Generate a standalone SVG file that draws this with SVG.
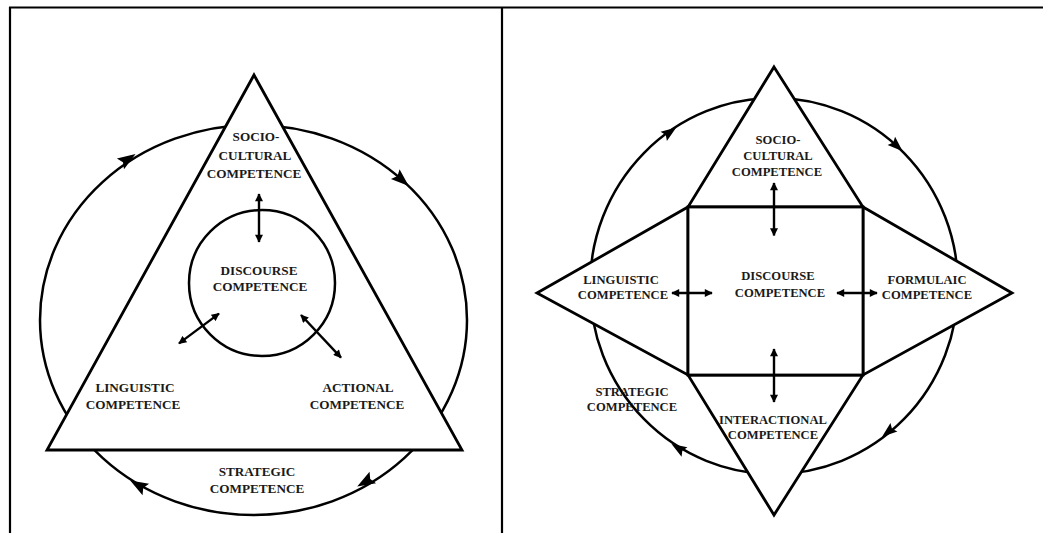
<svg xmlns="http://www.w3.org/2000/svg" width="1043" height="533" viewBox="0 0 1043 533">
<style>
.ln{fill:none;stroke:#000;stroke-width:2.5}
.sh{fill:#fff;stroke:#000;stroke-width:2.8;stroke-linejoin:miter}
.frame{stroke:#000;stroke-width:2.2;fill:none}
.tl{font-family:"Liberation Serif","Times New Roman",serif;font-weight:bold;font-size:13.2px;fill:#1a1a1a;text-anchor:middle}
.tr{font-family:"Liberation Serif","Times New Roman",serif;font-weight:bold;font-size:12.6px;fill:#1a1a1a;text-anchor:middle}
.da{fill:none;stroke:#000;stroke-width:2.4;marker-start:url(#ah);marker-end:url(#ah)}
.head{fill:#000}
</style>
<defs>
<marker id="ah" viewBox="0 0 10 10" refX="9" refY="5" markerWidth="9" markerHeight="8" markerUnits="userSpaceOnUse" orient="auto-start-reverse">
<path d="M0,0 L10,5 L0,10 Z" fill="#000"/>
</marker>
<path id="cyc" d="M9,0 L-9,-6.5 L-6,0 L-9,6.5 Z"/>
</defs>
<rect width="1043" height="533" fill="#fff"/>
<g id="frame">
<line class="frame" x1="9" y1="7.5" x2="1043" y2="7.5"/>
<line class="frame" x1="10" y1="7" x2="10" y2="533"/>
<line class="frame" x1="502" y1="7" x2="502" y2="533"/>
</g>

<!-- LEFT DIAGRAM -->
<g id="left-strategic">
<ellipse class="ln" cx="253.5" cy="320" rx="213.5" ry="195"/>
<text class="tl" x="257" y="475.5">STRATEGIC</text>
<text class="tl" x="257" y="492.5">COMPETENCE</text>
</g>
<g id="left-triangle">
<polygon class="sh" points="254,75 462,450 47,450"/>
</g>
<g id="left-sociocultural">
<text class="tl" x="256" y="141">SOCIO-</text>
<text class="tl" x="255" y="160">CULTURAL</text>
<text class="tl" x="254" y="178">COMPETENCE</text>
</g>
<g id="left-discourse">
<circle class="ln" cx="262" cy="283" r="73"/>
<text class="tl" x="259" y="275">DISCOURSE</text>
<text class="tl" x="260" y="291">COMPETENCE</text>
</g>
<g id="left-linguistic">
<text class="tl" x="135" y="392">LINGUISTIC</text>
<text class="tl" x="133" y="409">COMPETENCE</text>
</g>
<g id="left-actional">
<text class="tl" x="358" y="392">ACTIONAL</text>
<text class="tl" x="357" y="409">COMPETENCE</text>
</g>

<!-- RIGHT DIAGRAM -->
<g id="right-strategic">
<ellipse class="ln" cx="774" cy="286" rx="184" ry="188"/>
<text class="tr" x="632" y="396">STRATEGIC</text>
<text class="tr" x="632" y="410.5">COMPETENCE</text>
</g>
<g id="right-sociocultural">
<polygon class="sh" points="774,67 863,207 688,207"/>
<text class="tr" x="778" y="143.5">SOCIO-</text>
<text class="tr" x="778" y="159.5">CULTURAL</text>
<text class="tr" x="777" y="176">COMPETENCE</text>
</g>
<g id="right-linguistic">
<polygon class="sh" points="537,293 688,207 688,375"/>
<text class="tr" x="621" y="284">LINGUISTIC</text>
<text class="tr" x="623" y="298.5">COMPETENCE</text>
</g>
<g id="right-formulaic">
<polygon class="sh" points="1012,293 863,207 863,375"/>
<text class="tr" x="927" y="284">FORMULAIC</text>
<text class="tr" x="927" y="298.5">COMPETENCE</text>
</g>
<g id="right-interactional">
<polygon class="sh" points="688,375 863,375 774,515"/>
<text class="tr" x="773" y="424">INTERACTIONAL</text>
<text class="tr" x="773" y="438.5">COMPETENCE</text>
</g>
<g id="right-discourse">
<rect class="sh" x="688" y="207" width="175" height="168"/>
<text class="tr" x="778" y="279.5">DISCOURSE</text>
<text class="tr" x="780" y="296.5">COMPETENCE</text>
</g>

<g id="connectors">
<!-- left cycle arrowheads -->
<use href="#cyc" class="head" transform="translate(128,159) rotate(-33)"/>
<use href="#cyc" class="head" transform="translate(402,180) rotate(41.5)"/>
<use href="#cyc" class="head" transform="translate(365,482) rotate(150)"/>
<use href="#cyc" class="head" transform="translate(138,485) rotate(210)"/>
<!-- left double arrows -->
<line class="da" x1="259" y1="194" x2="259" y2="242"/>
<line class="da" x1="219" y1="313.6" x2="179" y2="343.4"/>
<line class="da" x1="301" y1="315" x2="341" y2="357.6"/>
<!-- right cycle arrowheads -->
<use href="#cyc" class="head" transform="translate(670,132) rotate(-35) scale(0.85)"/>
<use href="#cyc" class="head" transform="translate(897,146) rotate(42.5) scale(0.85)"/>
<use href="#cyc" class="head" transform="translate(888,432) rotate(141) scale(0.85)"/>
<use href="#cyc" class="head" transform="translate(678,448) rotate(212) scale(0.85)"/>
<!-- right double arrows -->
<line class="da" x1="774" y1="183" x2="774" y2="235.5"/>
<line class="da" x1="774" y1="349" x2="774" y2="402"/>
<line class="da" x1="672" y1="293" x2="712" y2="293"/>
<line class="da" x1="837" y1="293" x2="877" y2="293"/>
</g>
</svg>
